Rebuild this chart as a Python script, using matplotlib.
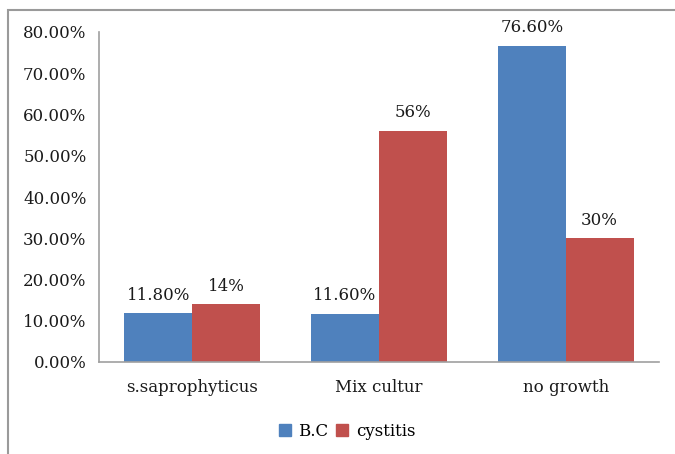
import matplotlib.pyplot as plt
from matplotlib.patches import Rectangle, Patch
import numpy as np

categories = ["s.saprophyticus", "Mix cultur", "no growth"]
bc_values = [11.8, 11.6, 76.6]
cystitis_values = [14, 56, 30]
bc_labels = ["11.80%", "11.60%", "76.60%"]
cystitis_labels = ["14%", "56%", "30%"]
yticks = [0, 10, 20, 30, 40, 50, 60, 70, 80]

blue = "#4f81bd"
red = "#c0504d"
txt_color = "#1a1a1a"
fs = 12
plt.rcParams['font.family'] = ['DejaVu Serif']

W, H = 675, 454
fig = plt.figure(figsize=(W / 100, H / 100), dpi=100)
ax = fig.add_axes([99 / W, 1 - 362 / H, (659 - 99) / W, (362 - 32) / H])

x = np.arange(len(categories))
w = 0.364
b1 = ax.bar(x - w / 2, bc_values, w, color=blue, label="B.C")
b2 = ax.bar(x + w / 2, cystitis_values, w, color=red, label="cystitis")

# value labels above each bar
for bars, labels in [(b1, bc_labels), (b2, cystitis_labels)]:
    for rect, txt in zip(bars, labels):
        ax.annotate(txt, (rect.get_x() + rect.get_width() / 2, rect.get_height()),
                    textcoords="offset points", xytext=(0, 7),
                    ha="center", va="bottom", fontsize=fs, color=txt_color)

ax.set_xlim(-0.5, 2.5)
ax.set_ylim(0, 80)
ax.set_yticks(yticks)
ax.set_yticklabels([f"{v:.2f}%" for v in yticks], fontsize=fs, color=txt_color)
ax.set_xticks(x)
ax.set_xticklabels(categories, fontsize=fs, color=txt_color)
ax.tick_params(axis="y", length=0, pad=9)
ax.tick_params(axis="x", length=0, pad=12)
for s in ["top", "right"]:
    ax.spines[s].set_visible(False)
for s in ["left", "bottom"]:
    ax.spines[s].set_color("#a0a0a0")
    ax.spines[s].set_linewidth(1.2)

handles = [Patch(color=blue, label="B.C"), Patch(color=red, label="cystitis")]
fig.legend(handles=handles, loc="center", bbox_to_anchor=(347 / W, 1 - 431 / H),
           ncol=2, frameon=False, fontsize=fs, handlelength=0.7,
           handleheight=0.7, handletextpad=0.45, columnspacing=0.5)

# outer chart border
fig.patches.append(Rectangle((8 / W, -0.1), 1.2, 1 - 10 / H + 0.1,
                             transform=fig.transFigure, fill=False,
                             edgecolor="#9a9a9a", linewidth=1.5))

fig.savefig("out.png", dpi=100)
